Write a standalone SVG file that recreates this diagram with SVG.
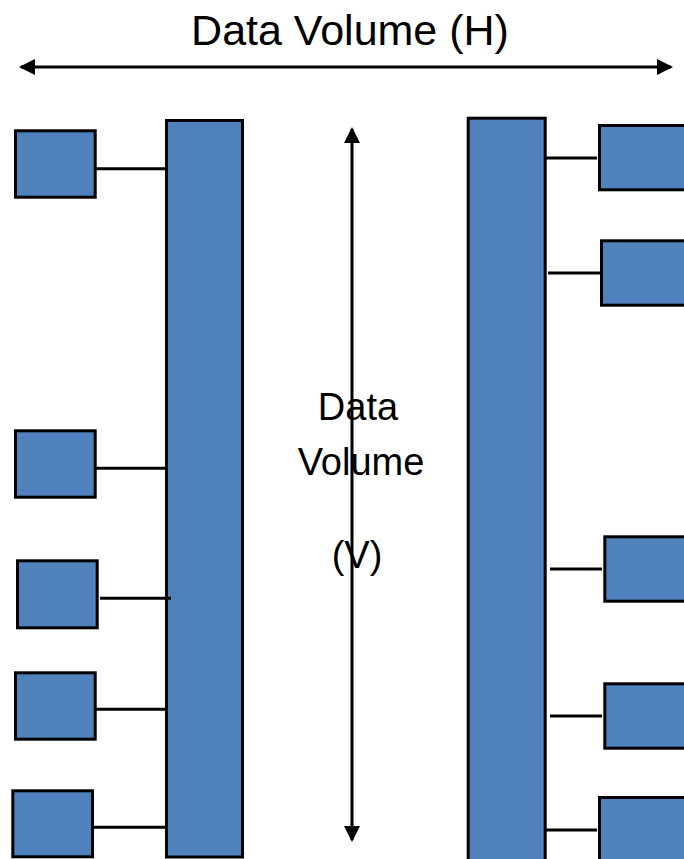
<svg xmlns="http://www.w3.org/2000/svg" width="684" height="859" viewBox="0 0 684 859">
  <style>
    .blk { fill: #4F81BD; stroke: #000; stroke-width: 3; }
    .link { stroke: #000; stroke-width: 3; fill: none; }
    .axis { stroke: #000; stroke-width: 3; fill: none; }
    .lbl { font-family: "Liberation Sans", Arial, sans-serif; fill: #000; text-anchor: middle; }
  </style>
  <defs>
    <marker id="tip" viewBox="0 0 16 16" refX="14" refY="8" markerWidth="16" markerHeight="16" markerUnits="userSpaceOnUse" orient="auto-start-reverse">
      <path d="M0,0 L16,8 L0,16 Z" fill="#000"/>
    </marker>
  </defs>
  <rect width="684" height="859" fill="#fff"/>

  <!-- axis arrows and labels -->
  <g id="axes">
    <line class="axis" x1="21" y1="67" x2="671" y2="67" marker-start="url(#tip)" marker-end="url(#tip)"/>
    <line class="axis" x1="352" y1="129" x2="352" y2="840" marker-start="url(#tip)" marker-end="url(#tip)"/>
    <text class="lbl" x="350" y="45" font-size="43">Data Volume (H)</text>
    <text class="lbl" x="358" y="420" font-size="38">Data</text>
    <text class="lbl" x="361" y="475" font-size="38">Volume</text>
    <text class="lbl" x="357" y="568" font-size="38">(V)</text>
  </g>

  <!-- buses -->
  <g id="bus-left"><rect class="blk" x="166.5" y="120.5" width="76" height="736.5"/></g>
  <g id="bus-right"><rect class="blk" x="468.2" y="118.2" width="77" height="745"/></g>

  <!-- left nodes -->
  <g id="left-1"><rect class="blk" x="15.5" y="130.8" width="79.7" height="66.4"/></g>
  <g id="left-2"><rect class="blk" x="15.5" y="430.8" width="79.7" height="66.4"/></g>
  <g id="left-3"><rect class="blk" x="17.5" y="560.8" width="79.7" height="67"/></g>
  <g id="left-4"><rect class="blk" x="15.5" y="672.8" width="79.7" height="66.4"/></g>
  <g id="left-5"><rect class="blk" x="12.8" y="790.8" width="79.7" height="66"/></g>

  <!-- right nodes -->
  <g id="right-1"><rect class="blk" x="599.5" y="125.5" width="90" height="64.3"/></g>
  <g id="right-2"><rect class="blk" x="601.5" y="240.8" width="90" height="64.4"/></g>
  <g id="right-3"><rect class="blk" x="604.8" y="536.8" width="90" height="64.4"/></g>
  <g id="right-4"><rect class="blk" x="604.8" y="683.8" width="90" height="64.4"/></g>
  <g id="right-5"><rect class="blk" x="599.5" y="797.5" width="90" height="70"/></g>

  <!-- connectors -->
  <g id="connectors">
    <line class="link" x1="96" y1="168.7" x2="166" y2="168.7"/>
    <line class="link" x1="96" y1="468.3" x2="166" y2="468.3"/>
    <line class="link" x1="100" y1="598.3" x2="171" y2="598.3"/>
    <line class="link" x1="96" y1="709.3" x2="166" y2="709.3"/>
    <line class="link" x1="94" y1="827.3" x2="166" y2="827.3"/>
    <line class="link" x1="546" y1="158" x2="597" y2="158"/>
    <line class="link" x1="548" y1="273" x2="600" y2="273"/>
    <line class="link" x1="550" y1="569" x2="602" y2="569"/>
    <line class="link" x1="550" y1="716" x2="602" y2="716"/>
    <line class="link" x1="546" y1="830" x2="597" y2="830"/>
  </g>
</svg>
